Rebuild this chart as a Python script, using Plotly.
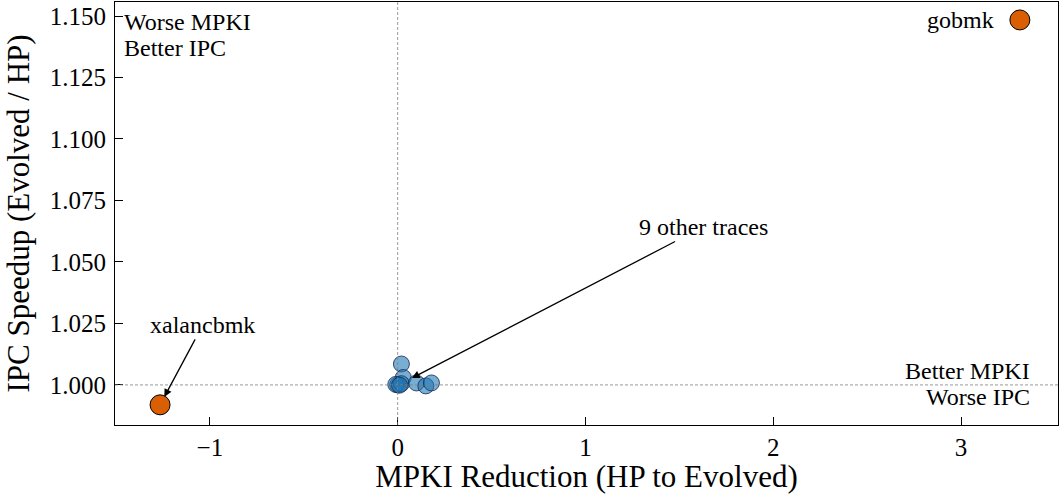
import plotly.graph_objects as go

# Data
highlight_names = ["gobmk", "xalancbmk"]
highlight_mpki = [3.313, -1.265]
highlight_ipc = [1.1484, 0.9919]

other_mpki = [0.02, 0.03, 0.00, -0.01, 0.02, 0.10, 0.15, 0.18, 0.01]
other_ipc = [1.0085, 1.0030, 1.0000, 1.0002, 1.0005, 1.0008, 0.9996, 1.0008, 0.9999]

x_range = [-1.505, 3.516]
y_range = [0.9837, 1.1557]
x_ticks = [-1, 0, 1, 2, 3]
y_ticks = [1.000, 1.025, 1.050, 1.075, 1.100, 1.125, 1.150]

FONT = "Liberation Serif"

fig = go.Figure()

fig.add_trace(go.Scatter(
    x=other_mpki, y=other_ipc, mode="markers",
    marker=dict(size=16, color="rgba(31,119,180,0.6)",
                line=dict(color="rgba(20,40,80,0.8)", width=1)),
    showlegend=False, hoverinfo="skip"))

fig.add_trace(go.Scatter(
    x=highlight_mpki, y=highlight_ipc, mode="markers",
    marker=dict(size=20, color="#d95f02", line=dict(color="black", width=1)),
    showlegend=False, hoverinfo="skip"))

# Reference lines
fig.add_shape(type="line", xref="x", yref="paper", x0=0, x1=0, y0=0, y1=1,
              line=dict(color="gray", width=0.8, dash="3px,2px"))
fig.add_shape(type="line", xref="paper", yref="y", x0=0, x1=1, y0=1, y1=1,
              line=dict(color="gray", width=0.8, dash="3px,2px"))

ann_font = dict(family=FONT, size=24, color="black")

fig.add_annotation(x=highlight_mpki[0], y=highlight_ipc[0], text=highlight_names[0],
                   showarrow=False, xanchor="right", yanchor="middle", xshift=-24,
                   font=ann_font)
fig.add_annotation(x=highlight_mpki[1], y=highlight_ipc[1], text=highlight_names[1],
                   showarrow=True, axref="x", ayref="y", ax=-1.037, ay=1.0244,
                   arrowhead=2, arrowsize=1.2, arrowwidth=1.3, arrowcolor="black",
                   standoff=9, font=ann_font)
fig.add_annotation(x=0.076, y=1.0028, text="9 other traces",
                   showarrow=True, axref="x", ayref="y", ax=1.626, ay=1.0642,
                   arrowhead=2, arrowsize=1.2, arrowwidth=1.3, arrowcolor="black",
                   standoff=0, font=ann_font)
fig.add_annotation(xref="paper", yref="paper", x=0.007, y=1, yshift=-5,
                   text="Worse MPKI", showarrow=False,
                   xanchor="left", yanchor="top", font=ann_font)
fig.add_annotation(xref="paper", yref="paper", x=0.007, y=1, yshift=-31,
                   text="Better IPC", showarrow=False,
                   xanchor="left", yanchor="top", font=ann_font)
fig.add_annotation(xref="paper", yref="y", x=0.972, y=1.0, yshift=14,
                   text="Better MPKI", showarrow=False,
                   xanchor="right", yanchor="middle", font=ann_font)
fig.add_annotation(xref="paper", yref="y", x=0.972, y=1.0, yshift=-12,
                   text="Worse IPC", showarrow=False,
                   xanchor="right", yanchor="middle", font=ann_font)

fig.update_layout(
    width=1060, height=494,
    margin=dict(l=115, r=2, t=2, b=69),
    plot_bgcolor="white", paper_bgcolor="white",
    font=dict(family=FONT, color="black"),
)
fig.update_xaxes(range=x_range, tickvals=x_ticks, ticks="inside", ticklen=8,
                 tickcolor="black", showline=True, linecolor="black", linewidth=1,
                 mirror=True, showgrid=False, zeroline=False,
                 tickfont=dict(size=25, family=FONT),
                 title=dict(text="MPKI Reduction (HP to Evolved)",
                            font=dict(size=31, family=FONT), standoff=6),
                 automargin=False)
fig.update_yaxes(range=y_range, tickvals=y_ticks, tickformat=".3f", ticks="inside",
                 ticklen=8, tickcolor="black", showline=True, linecolor="black",
                 linewidth=1, mirror=True, showgrid=False, zeroline=False,
                 tickfont=dict(size=25, family=FONT), ticklabelstandoff=3,
                 title=dict(text="IPC Speedup (Evolved / HP)",
                            font=dict(size=31, family=FONT), standoff=10),
                 automargin=False)

fig.write_html("out.html")
